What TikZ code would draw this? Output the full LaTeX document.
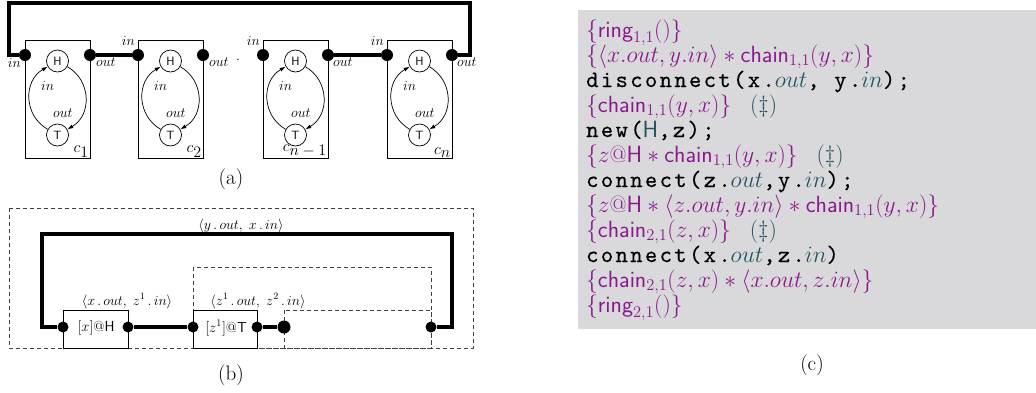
\RequirePackage{fix-cm}
\documentclass[tikz,border=0pt]{standalone}
\usepackage{fontspec}
\usetikzlibrary{arrows.meta}
\newfontfamily\codett{lmmono10-regular.otf}[LetterSpace=10,FakeBold=0.35]
\definecolor{cpurple}{RGB}{140,25,140}
\definecolor{cteal}{RGB}{35,85,95}
\definecolor{cgray}{RGB}{217,217,220}
\newcommand\tl[1]{\textcolor{cteal}{$#1$}}
\newcommand\dg{\textcolor{cteal}{(\ddag)}}
\begin{document}
\begin{tikzpicture}[x=1pt,y=-1pt,
  port/.style={circle,fill=black,inner sep=0pt,minimum size=12pt},
  bport/.style={circle,fill=black,inner sep=0pt,minimum size=11pt},
  hnode/.style={circle,draw,line width=0.7pt,minimum size=22pt,inner sep=0pt,font=\fontsize{12}{12}\sffamily},
  wire/.style={line width=4pt},
  bwire/.style={line width=3.5pt},
  boxline/.style={line width=0.8pt},
  dashline/.style={line width=0.8pt,dash pattern=on 4pt off 3pt,black!75},
  lbl/.style={font=\fontsize{14}{14}\selectfont,inner sep=0pt},
  capt/.style={font=\fontsize{21}{21}\selectfont,inner sep=0pt},
  codeline/.style={anchor=base west,inner sep=0pt,font=\fontsize{23.5}{25}\selectfont,text=cpurple},
  arc/.style={line width=0.7pt,-{Latex[length=6pt,width=4pt]}}]
\useasboundingbox (0,0) rectangle (1036,392);
% ---------- (a)
\foreach \x/\n/\lab in {25/1/{c_{\textstyle 1}},138/2/{c_{\textstyle 2}},263/3/{c_{\textstyle n-1}},387/4/{c_{\textstyle n}}}{
  \draw[boxline] (\x,40) rectangle ++(65,118);
  \node[port] (in\n) at (\x,55) {};
  \node[port] (out\n) at (\x+65,55) {};
  \node[hnode] (H\n) at (\x+32.5,61) {H};
  \node[hnode] (T\n) at (\x+32.5,135) {T};
  \draw[arc] (T\n) to[out=150,in=210,looseness=1.15] (H\n);
  \draw[arc] (H\n) to[out=-30,in=30,looseness=1.15] (T\n);
  \node[lbl,anchor=west] (li\n) at (\x+16,86) {$in$};
  \node[lbl,anchor=west] (lo\n) at (\x+28,113) {$out$};
  \node[lbl,font=\fontsize{16}{16}\selectfont,anchor=south east] (cl\n) at (\x+64,157.5) {$\lab$};
}
\node[lbl,anchor=north east] (pi1) at (21,58) {$in$};
\node[lbl,anchor=north west] (po1) at (96,58) {$out$};
\node[lbl,anchor=south east] (pi2) at (135,46) {$in$};
\node[lbl,anchor=north west] (po2) at (209,58) {$out$};
\node[lbl,anchor=base] (mid) at (238,60) {.};
\node[lbl,anchor=south east] (pi3) at (260,46) {$in$};
\node[lbl,anchor=north west] (po3) at (333,58) {$out$};
\node[lbl,anchor=south east] (pi4) at (384,46) {$in$};
\node[lbl,anchor=north west] (po4) at (457,58) {$out$};
\coordinate (a1) at (9,55);
\coordinate (a2) at (9,3);
\coordinate (a3) at (470,3);
\coordinate (a4) at (470,55);
\draw[wire] (in1) -- (a1) -- (a2) -- (a3) -- (a4) -- (out4);
\draw[wire] (out1) -- (in2);
\draw[wire] (out3) -- (in4);
\node[capt] (capa) at (231,179) {(a)};
% ---------- (b)
\draw[dashline] (9,208) rectangle (473,348);
\draw[dashline] (193,267) rectangle (431,348);
\draw[dashline] (284,310) rectangle (431,348);
\draw[boxline] (63,310) rectangle (128,348);
\draw[boxline] (193,310) rectangle (257,348);
\node[lbl,font=\fontsize{14.5}{14.5}\selectfont] (xh) at (96,328) {[$x$]@\textsf{H}};
\node[lbl,font=\fontsize{14.5}{14.5}\selectfont] (zt) at (226,328) {[$z^1$]@\textsf{T}};
\node[bport] (xin) at (63,327) {};
\node[bport] (xout) at (128,327) {};
\node[bport] (zin) at (193,327) {};
\node[bport] (zout) at (257,327) {};
\node[circle,fill=black,inner sep=0pt,minimum size=13pt] (big) at (284,327) {};
\node[bport] (rdot) at (431,327) {};
\coordinate (b1) at (42,327);
\coordinate (b2) at (42,234);
\coordinate (b3) at (452,234);
\coordinate (b4) at (452,327);
\draw[bwire] (xin) -- (b1) -- (b2) -- (b3) -- (b4) -- (rdot);
\draw[bwire] (xout) -- (zin);
\draw[bwire] (zout) -- (big);
\node[lbl,anchor=base] (ly) at (241,229) {$\langle y\,.\,out,\; x\,.\,in\rangle$};
\node[lbl,anchor=base] (lx) at (127,305) {$\langle x\,.\,out,\; z^{1}\,.\,in\rangle$};
\node[lbl,anchor=base] (lz) at (258,305) {$\langle z^{1}\,.\,out,\; z^{2}\,.\,in\rangle$};
\node[capt] (capb) at (231,375) {(b)};
% ---------- (c)
\fill[cgray] (578,10) rectangle (1036,329);
\node[codeline] (l1) at (586,37) {$\{\mathsf{ring}_{1,1}()\}$};
\node[codeline] (l2) at (586,62) {$\{\langle x.out, y.in\rangle * \mathsf{chain}_{1,1}(y,x)\}$};
\node[codeline,text=black] (l3) at (586,87) {\codett disconnect(x.\tl{out}, y.\tl{in});};
\node[codeline] (l4) at (586,112) {$\{\mathsf{chain}_{1,1}(y,x)\}$\hspace{0.8em}\dg};
\node[codeline,text=black] (l5) at (586,137) {\codett new(\textcolor{cteal}{\textsf{H}},z);};
\node[codeline] (l6) at (586,162) {$\{z@\mathsf{H} * \mathsf{chain}_{1,1}(y,x)\}$\hspace{0.8em}\dg};
\node[codeline,text=black] (l7) at (586,187) {\codett connect(z.\tl{out},y.\tl{in});};
\node[codeline] (l8) at (586,212) {$\{z@\mathsf{H} * \langle z.out, y.in\rangle * \mathsf{chain}_{1,1}(y,x)\}$};
\node[codeline] (l9) at (586,237) {$\{\mathsf{chain}_{2,1}(z,x)\}$\hspace{0.8em}\dg};
\node[codeline,text=black] (l10) at (586,262) {\codett connect(x.\tl{out},z.\tl{in})};
\node[codeline] (l11) at (586,287) {$\{\mathsf{chain}_{2,1}(z,x) * \langle x.out, z.in\rangle\}$};
\node[codeline] (l12) at (586,312) {$\{\mathsf{ring}_{2,1}()\}$};
\node[capt] (capc) at (812,365) {(c)};
\end{tikzpicture}
\end{document}
